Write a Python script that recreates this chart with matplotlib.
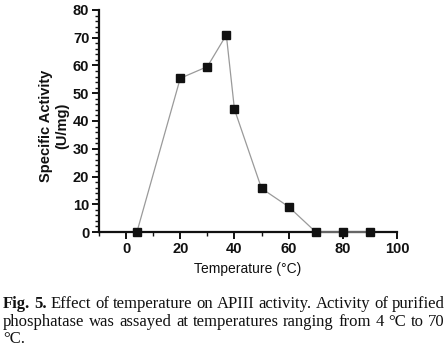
import matplotlib
matplotlib.use("Agg")
import matplotlib.pyplot as plt
from matplotlib.ticker import MultipleLocator

temperature = [4, 20, 30, 37, 40, 50, 60, 70, 80, 90]
activity = [0, 55.4, 59.6, 71.0, 44.2, 15.7, 9.1, 0, 0, 0]
x_ticks = [0, 20, 40, 60, 80, 100]
y_ticks = [0, 10, 20, 30, 40, 50, 60, 70, 80]
caption_lines = [
    ["Fig. 5.", "Effect of temperature on APIII activity. Activity of purified"],
    ["", "phosphatase was assayed at temperatures ranging from 4 \u00b0C to 70"],
    ["", "\u00b0C."],
]

W, H = 448, 347
fig = plt.figure(figsize=(W / 100, H / 100), dpi=100)
ax = fig.add_axes([99 / W, 1 - 232 / H, (397 - 99) / W, (232 - 10) / H])

ax.plot(temperature, activity, color="#9a9a9a", lw=0.9, marker="s", ms=6,
        mfc="#111111", mec="#111111", zorder=3, clip_on=False)
ax.set_xlim(-10, 100)
ax.set_ylim(0, 80)
ax.set_xticks(x_ticks)
ax.set_yticks(y_ticks)
ax.xaxis.set_minor_locator(MultipleLocator(10))
ax.yaxis.set_minor_locator(MultipleLocator(2))
for s in ["top", "right"]:
    ax.spines[s].set_visible(False)
for s in ["left", "bottom"]:
    ax.spines[s].set_linewidth(1.6)
    ax.spines[s].set_color("#111111")
ax.tick_params(which="major", direction="out", length=5, width=1.4, color="#111111",
               labelsize=10.5, pad=2)
ax.tick_params(which="minor", direction="out", length=3, width=1.0, color="#111111")
for lab in ax.get_xticklabels() + ax.get_yticklabels():
    lab.set_fontfamily("Liberation Sans")
    lab.set_fontweight("bold")
    lab.set_color("#111111")

fig.text(46 / W, 1 - 126 / H, "Specific Activity", rotation=90, ha="center", va="center",
         fontsize=10.5, fontweight="bold", family="Liberation Sans", color="#111111")
fig.text(62 / W, 1 - 126 / H, "(U/mg)", rotation=90, ha="center", va="center",
         fontsize=10.5, fontweight="bold", family="Liberation Sans", color="#111111")
fig.text(248 / W, 1 - 269 / H, "Temperature (\u00b0C)", ha="center", va="center",
         fontsize=10, family="Liberation Sans", color="#111111")

# justified caption
fig.canvas.draw()
renderer = fig.canvas.get_renderer()
left, right = 3, 445
ys = [304, 322, 339]
fs = 12
for i, (boldpart, rest) in enumerate(caption_lines):
    words = []
    if boldpart:
        words += [(w, "bold") for w in boldpart.split()]
    words += [(w, "normal") for w in rest.split()]
    arts = []
    widths = []
    for w, wt in words:
        t = fig.text(0, 1 - ys[i] / H, w, fontsize=fs, family="Liberation Serif",
                     fontweight=wt, va="center", ha="left", color="#111111")
        bb = t.get_window_extent(renderer)
        arts.append(t)
        widths.append(bb.width)
    justify = i < len(caption_lines) - 1 and len(words) > 1
    if justify:
        gap = (right - left - sum(widths)) / (len(words) - 1)
    else:
        gap = 3.0
    x = left
    for t, wd in zip(arts, widths):
        t.set_x(x / W)
        x += wd + gap

fig.savefig("out.png", dpi=100)
